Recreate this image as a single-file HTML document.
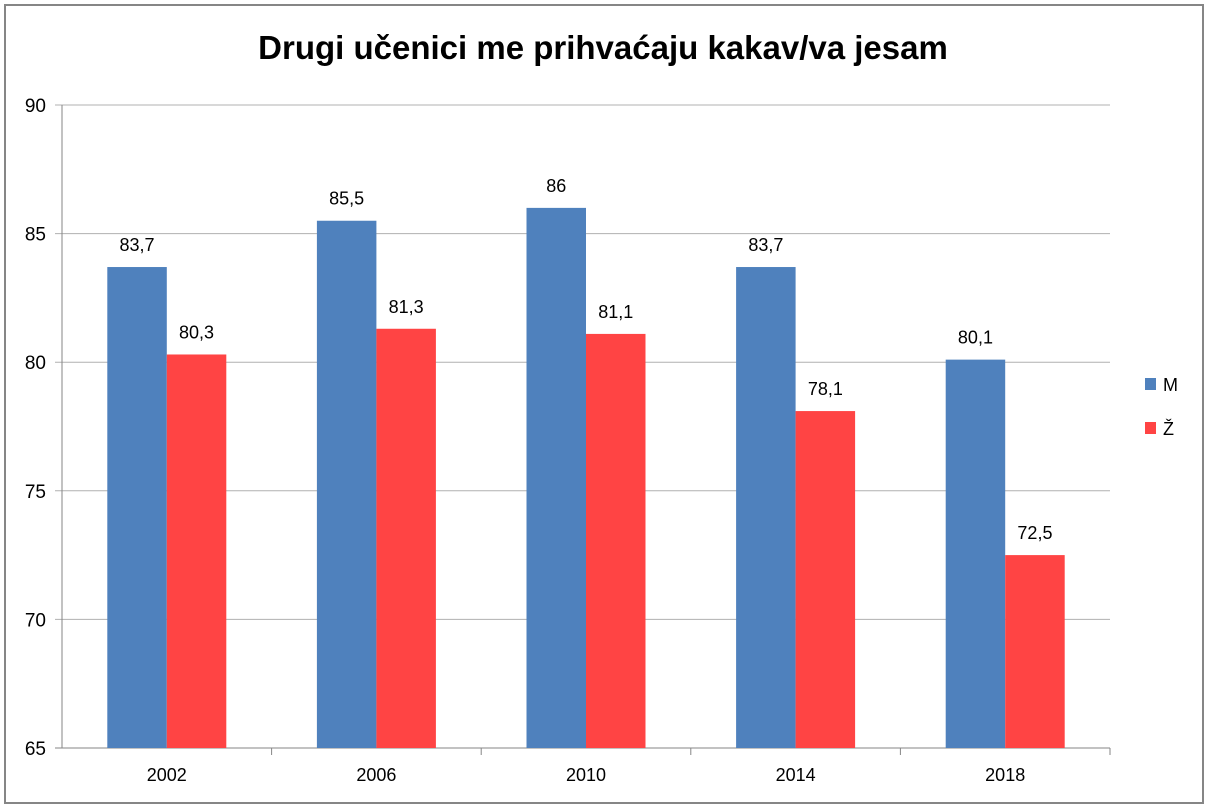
<!DOCTYPE html>
<html><head><meta charset="utf-8"><style>
body{margin:0;background:#fff}
svg{display:block;font-family:"Liberation Sans",sans-serif}
</style></head><body>
<svg id="chart" width="1208" height="808">
<rect x="5" y="5" width="1198" height="798" fill="#fff" stroke="#868686" stroke-width="2"/>
<text x="603" y="59" text-anchor="middle" font-size="33" font-weight="bold">Drugi učenici me prihvaćaju kakav/va jesam</text>
<g id="grid"></g><g id="bars"></g><g id="labels"></g>
<rect x="1145" y="378" width="11" height="12" fill="#4f81bd"/>
<text x="1163" y="391" font-size="18">M</text>
<rect x="1145" y="422" width="11" height="12" fill="#ff4444"/>
<text x="1163" y="435" font-size="18">Ž</text>
</svg>
<script>
const categories=["2002","2006","2010","2014","2018"];
const seriesM=[83.7,85.5,86,83.7,80.1];
const seriesZ=[80.3,81.3,81.1,78.1,72.5];
const yTicks=[65,70,75,80,85,90];
const NS="http://www.w3.org/2000/svg";
const X0=62,X1=1110,Y0=748,Y1=105,YMIN=65,YMAX=90;
const y=v=>Y0-(v-YMIN)/(YMAX-YMIN)*(Y0-Y1);
const gw=(X1-X0)/categories.length, bw=59.5;
function mk(t,a,p){const e=document.createElementNS(NS,t);for(const k in a)e.setAttribute(k,a[k]);p.appendChild(e);return e;}
const grid=document.getElementById('grid'),bars=document.getElementById('bars'),labels=document.getElementById('labels');
yTicks.forEach(v=>{
 const l=mk('line',{x1:55,x2:X1,y1:y(v),y2:y(v),stroke:v===YMIN?'#868686':'#b0b0b0','stroke-width':1},grid);
 
 
 const t=mk('text',{x:46,y:y(v)+7,'text-anchor':'end','font-size':19},grid);t.textContent=v;
 
 
});
const ax=mk('line',{x1:X0,x2:X0,y1:Y1,y2:Y0,stroke:'#868686'},grid);


categories.forEach((c,i)=>{
 const cx=X0+gw*(i+0.5);
 const tk=mk('line',{x1:X0+gw*(i+1),x2:X0+gw*(i+1),y1:Y0,y2:Y0+7,stroke:'#868686'},grid);
 
 
 const t=mk('text',{x:cx,y:Y0+33,'text-anchor':'middle','font-size':18},labels);t.textContent=c;
 
 
 [[seriesM[i],'#4f81bd',cx-bw,'m'],[seriesZ[i],'#ff4444',cx,'z']].forEach(([v,col,x,s])=>{
  const b=mk('rect',{x:x,y:y(v),width:bw,height:Y0-y(v),fill:col},bars);
  
  
  const vt=mk('text',{x:x+bw/2,y:y(v)-16,'text-anchor':'middle','font-size':18},labels);
  vt.textContent=String(v).replace('.',',');
  
  
 });
});
</script>
</body></html>
